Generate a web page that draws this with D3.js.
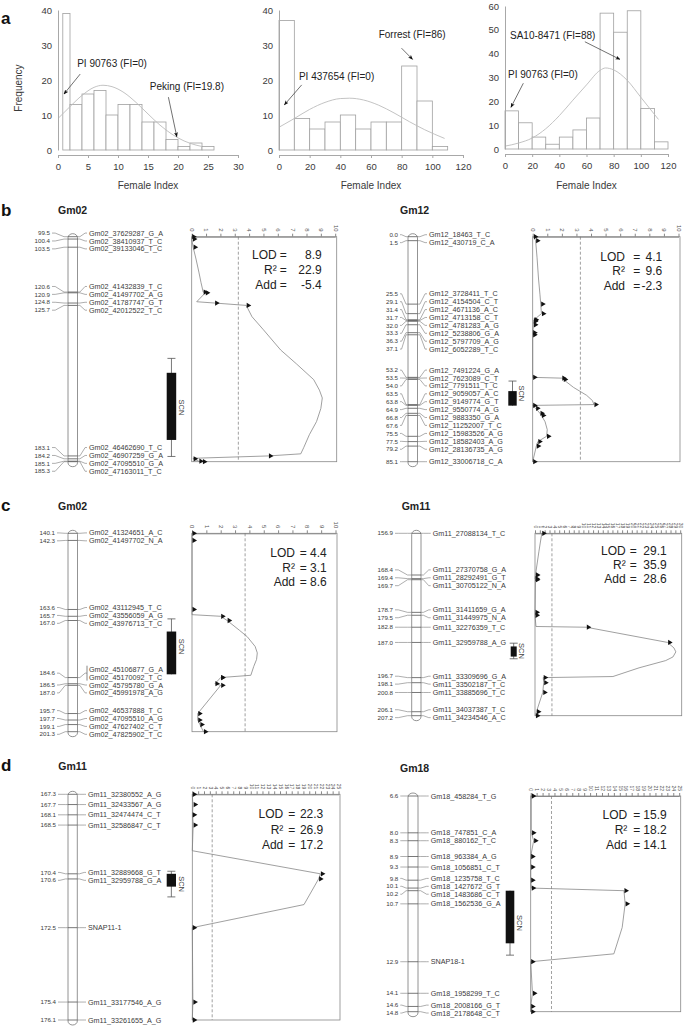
<!DOCTYPE html>
<html>
<head>
<meta charset="utf-8">
<script src="https://cdnjs.cloudflare.com/ajax/libs/d3/7.8.5/d3.min.js"></script>
<style>
  body { margin: 0; background: #fff; }
  svg { font-family: "Liberation Sans", Arial, Helvetica, sans-serif; }
</style>
</head>
<body>
<svg id="fig" width="685" height="1027"></svg>
<script>
// ---------- panel a : female index histograms ----------
var histTicksX1 = [0, 5, 10, 15, 20, 25, 30];
var histTicksX2 = [0, 20, 40, 60, 80, 100, 120];
var histTicksY40 = [0, 10, 20, 30, 40];
var histTicksY60 = [0, 10, 20, 30, 40, 50, 60];

var hist1Edges = [0.8, 2, 4, 6, 8, 10, 12, 14, 16, 18, 20, 22, 24, 26];
var hist1Counts = [39, 13, 16, 17, 10, 13, 13, 8, 8, 3, 1, 2, 1];
var hist1Fit = [[0, 9], [2, 12.4], [4, 15.6], [6, 17.9], [7.5, 18.5], [9, 18.1], [11, 16.4], [13, 13.6], [15, 10.3], [17, 7.1], [19, 4.5], [21, 2.6], [23, 1.4], [24, 1]];

var hist2Edges = [0, 10, 20, 30, 40, 50, 60, 70, 80, 90, 100, 110];
var hist2Counts = [37, 9, 6, 8, 10, 6, 8, 8, 24, 14, 1];
var hist2Fit = [[0, 6.5], [10, 9], [20, 11.6], [30, 13.6], [40, 14.7], [46, 14.8], [55, 14.3], [65, 12.8], [75, 10.6], [85, 8.1], [95, 5.8], [108, 3.3]];

var hist3Edges = [0, 10, 20, 30, 40, 50, 60, 70, 80, 90, 100, 110, 120];
var hist3Counts = [16, 11, 5, 2, 5, 8, 13, 57, 49, 58, 17, 3];
var hist3Fit = [[0, 1.2], [10, 2.5], [20, 4.6], [30, 8.5], [40, 14], [50, 20.5], [60, 26.9], [70, 33], [74, 34], [80, 33.2], [90, 28.8], [100, 21.7], [113, 12.4]];

// [text, text x, text y, arrow tail x, y, arrow tip x, y] in data units
var hist1Notes = [["PI 90763 (FI=0)", 3.2, 23.7, 3.7, 21.7, 1.0, 16], ["Peking (FI=19.8)", 15.3, 17.1, 18.4, 15.1, 19.8, 3.8]];
var hist2Notes = [["Forrest (FI=86)", 65, 32, 79.9, 29.1, 87.1, 25.9], ["PI 437654 (FI=0)", 13, 20, 14.8, 18.6, 3.5, 12.9]];
var hist3Notes = [["SA10-8471 (FI=88)", 3.7, 46.2, 58.8, 45, 84.6, 37.6], ["PI 90763 (FI=0)", 2.2, 29.8, 13.5, 27.6, 4.4, 17.5]];

// ---------- panels b-d : linkage maps + LOD profiles ----------
// b, Gm02
var bLeftPos = [99.5, 100.4, 103.5, 120.6, 120.9, 124.8, 125.7, 183.1, 184.2, 185.1, 185.3];
var bLeftNames = ["Gm02_37629287_G_A", "Gm02_38410937_T_C", "Gm02_39133046_T_C", "Gm02_41432839_T_C", "Gm02_41497702_A_G", "Gm02_41787747_G_T", "Gm02_42012522_T_C", "Gm02_46462690_T_C", "Gm02_46907259_G_A", "Gm02_47095510_G_A", "Gm02_47163011_T_C"];
var bLeftMarkLod = [0, 0.05, 0.1, 0.8, 0.95, 1.6, 3.8, 5.35, 0.1, 0.5, 0.75];
var bLeftCurve = [[99.5, 0], [100.4, 0], [103.5, 0.1], [108, 0.3], [113, 0.5], [117, 0.65], [120.6, 0.8], [120.9, 0.95], [124.3, 0.35], [124.8, 1.6], [125.7, 3.8], [130, 4.2], [135, 5.0], [142.7, 6.2], [148, 7.3], [154, 8.5], [158, 8.9], [161, 9.1], [165, 9.0], [170, 8.7], [175, 8.2], [180, 7.8], [182.3, 7.6], [183.1, 5.35], [184.0, 0.1], [184.2, 0.1], [185.1, 0.5], [185.3, 0.75]];
var bLeftQtl = [145.9, 151.4, 177.0, 183.3];
var bLeftStats = ["8.9", "22.9", "-5.4"];

// b, Gm12
var bRightPos = [0.0, 1.5, 25.5, 29.1, 31.4, 31.7, 32.0, 33.3, 36.3, 37.1, 53.2, 53.5, 54.0, 63.5, 63.8, 64.9, 66.8, 67.6, 75.5, 77.5, 79.2, 85.1];
var bRightNames = ["Gm12_18463_T_C", "Gm12_430719_C_A", "Gm12_3728411_T_C", "Gm12_4154504_C_T", "Gm12_4671136_A_C", "Gm12_4713158_C_T", "Gm12_4781283_A_G", "Gm12_5238806_G_A", "Gm12_5797709_A_G", "Gm12_6052289_T_C", "Gm12_7491224_G_A", "Gm12_7623089_C_T", "Gm12_7791511_T_C", "Gm12_9059057_A_C", "Gm12_9149774_G_T", "Gm12_9550774_A_G", "Gm12_9883350_G_A", "Gm12_11252007_T_C", "Gm12_15983526_A_G", "Gm12_18582403_A_G", "Gm12_28136735_A_G", "Gm12_33006718_C_A"];
var bRightMarkLod = [0.05, 0.2, 0.55, 0.6, 0.1, 0.05, 0.05, 0.05, 0, 0, 0, 2.0, 2.1, 4.2, 0, 0.2, 0.5, 0.6, 0.95, 0.35, 0.25, 0];
var bRightCurve = [[0, 0.05], [1.5, 0.2], [8, 0.3], [16, 0.4], [22, 0.5], [25.5, 0.55], [29.1, 0.6], [31.4, 0.1], [31.7, 0.05], [32, 0.05], [33.3, 0.05], [36.3, 0], [37.1, 0], [53.2, 0], [53.5, 2.0], [54, 2.1], [57, 2.8], [60, 3.7], [62, 4.1], [63.5, 4.2], [63.8, 0], [64.9, 0.2], [66.8, 0.5], [67.6, 0.6], [70, 0.85], [73, 1.0], [75.5, 0.95], [77.5, 0.35], [79.2, 0.25], [85.1, 0]];
var bRightQtl = [54.6, 58.4, 63.9, 63.9];
var bRightStats = ["4.1", "9.6", "-2.3"];

// c, Gm02
var cLeftPos = [140.1, 142.3, 163.6, 165.7, 167.0, 184.6, 184.6, 186.5, 187.0, 195.7, 197.7, 199.1, 201.3];
var cLeftNames = ["Gm02_41324651_A_C", "Gm02_41497702_N_A", "Gm02_43112945_T_C", "Gm02_43556059_A_G", "Gm02_43976713_T_C", "Gm02_45106877_G_A", "Gm02_45170092_T_C", "Gm02_45795780_G_A", "Gm02_45991978_A_G", "Gm02_46537888_T_C", "Gm02_47095510_A_G", "Gm02_47627402_C_T", "Gm02_47825902_T_C"];
var cLeftMarkLod = [0, 0, 0, 2.0, 2.45, 2.0, 2.0, 1.6, 2.0, 0.4, 0.4, 0.55, 0.8];
var cLeftCurve = [[140.1, 0], [142.3, 0], [163.6, 0], [165.2, 0], [165.7, 2.0], [167.0, 2.45], [170, 3.3], [172, 3.85], [175, 4.4], [177, 4.55], [179, 4.5], [181.2, 4.3], [183.9, 4.1], [184.6, 2.0], [186.5, 1.6], [187.0, 2.0], [195.7, 0.4], [197.7, 0.4], [199.1, 0.55], [201.3, 0.8]];
var cLeftQtl = [166.5, 170.4, 183.6, 183.6];
var cLeftStats = ["4.4", "3.1", "8.6"];

// c, Gm11
var cRightPos = [156.9, 168.4, 169.4, 169.7, 178.7, 179.5, 182.8, 187.0, 196.7, 198.1, 200.8, 206.1, 207.2];
var cRightNames = ["Gm11_27088134_T_C", "Gm11_27370758_G_A", "Gm11_28292491_G_T", "Gm11_30705122_N_A", "Gm11_31411659_G_A", "Gm11_31449975_N_A", "Gm11_32276359_T_C", "Gm11_32959788_A_G", "Gm11_33309696_G_A", "Gm11_33502187_T_C", "Gm11_33885696_T_C", "Gm11_34037387_T_C", "Gm11_34234546_A_C"];
var cRightMarkLod = [1.4, 0.1, 0, 0.1, 0, 0, 10.6, 27.4, 1.7, 1.8, 1.6, 0.3, 0.1];
var cRightCurve = [[156.9, 1.4], [162, 0.8], [168.4, 0.1], [169.4, 0], [169.7, 0.1], [178.7, 0], [179.5, 0], [182.6, 0.2], [182.8, 10.6], [187.0, 27.4], [188.5, 28.7], [189.6, 29.1], [191, 28.5], [192, 27], [194, 21.5], [196.4, 16.1], [196.7, 1.7], [198.1, 1.8], [200.8, 1.6], [206.1, 0.3], [207.2, 0.1]];
var cRightQtl = [187.2, 188.1, 190.9, 191.5];
var cRightStats = ["29.1", "35.9", "28.6"];

// d, Gm11
var dLeftPos = [167.3, 167.7, 168.1, 168.5, 170.4, 170.6, 172.5, 175.4, 176.1];
var dLeftNames = ["Gm11_32380552_A_G", "Gm11_32433567_A_G", "Gm11_32474474_C_T", "Gm11_32586847_C_T", "Gm11_32889668_G_T", "Gm11_32959788_G_A", "SNAP11-1", "Gm11_33177546_A_G", "Gm11_33261655_A_G"];
var dLeftMarkLod = [0, 0.15, 0, 0.15, 21.9, 21.6, 0, 0.1, 0];
var dLeftCurve = [[167.3, 0], [167.7, 0.1], [168.1, 0.05], [168.5, 0.15], [169.5, 0], [170.4, 21.9], [170.6, 21.6], [171.6, 19.1], [172.5, 0], [175.4, 0.1], [176.1, 0]];
var dLeftQtl = [170.3, 170.4, 170.9, 171.3];
var dLeftStats = ["22.3", "26.9", "17.2"];

// d, Gm18
var dRightPos = [6.6, 8.0, 8.3, 8.9, 9.3, 9.8, 10.1, 10.2, 10.7, 12.9, 14.1, 14.6, 14.8];
var dRightNames = ["Gm18_458284_T_G", "Gm18_747851_C_A", "Gm18_880162_T_C", "Gm18_963384_A_G", "Gm18_1056851_C_T", "Gm18_1235758_T_C", "Gm18_1427672_G_T", "Gm18_1483686_C_T", "Gm18_1562536_G_A", "SNAP18-1", "Gm18_1958299_T_C", "Gm18_2008166_G_T", "Gm18_2178648_C_T"];
var dRightMarkLod = [0.1, 0.15, 0.5, 0, 0, 0, 0.1, 15.7, 15.9, 0, 0.3, 0, 0];
var dRightCurve = [[6.6, 0.1], [8.0, 0.1], [8.3, 0.5], [8.9, 0], [9.3, 0], [9.8, 0], [10.1, 0.1], [10.2, 15.7], [10.7, 15.9], [11.6, 15.4], [12.6, 14.0], [12.9, 0], [14.1, 0.3], [14.6, 0], [14.8, 0]];
var dRightQtl = [10.2, 10.2, 12.2, 12.65];
var dRightStats = ["15.9", "18.2", "14.1"];

var statLabels = ["LOD", "R\u00b2", "Add"];

var svg = d3.select('#fig');
var TXT = '#3a3a3a';

// panel letters
[['a', 24], ['b', 216], ['c', 511], ['d', 771]].forEach(function (p) {
  svg.append('text').attr('x', 1).attr('y', p[1]).text(p[0])
    .attr('font-size', 17).attr('font-weight', 'bold').attr('fill', '#111');
});

svg.append('defs').append('marker')
  .attr('id', 'arr').attr('viewBox', '0 0 10 10').attr('refX', 9).attr('refY', 5)
  .attr('markerWidth', 7).attr('markerHeight', 7).attr('orient', 'auto')
  .append('path').attr('d', 'M0,1L10,5L0,9L2.5,5Z').attr('fill', '#111');

function drawHist(cfg, edges, counts, fit, notes) {
  var g = svg.append('g');
  var x = d3.scaleLinear().domain(cfg.xDomain).range(cfg.xRange);
  var y = d3.scaleLinear().domain(cfg.yDomain).range(cfg.yRange);

  g.selectAll('rect').data(counts).enter().append('rect')
    .attr('x', function (d, i) { return x(edges[i]); })
    .attr('y', function (d) { return y(d); })
    .attr('width', function (d, i) { return x(edges[i + 1]) - x(edges[i]); })
    .attr('height', function (d) { return y(0) - y(d); })
    .attr('fill', '#fff').attr('stroke', '#a0a0a0').attr('stroke-width', 0.8);

  g.append('path').datum(fit)
    .attr('d', d3.line().x(function (d) { return x(d[0]); }).y(function (d) { return y(d[1]); }).curve(d3.curveMonotoneX))
    .attr('fill', 'none').attr('stroke', '#bcbcbc').attr('stroke-width', 0.9);

  var ya = g.append('g').attr('transform', 'translate(' + cfg.xRange[0] + ',0)')
    .call(d3.axisLeft(y).tickValues(cfg.yTicks).tickSize(0).tickSizeOuter(0).tickPadding(6));
  var xa = g.append('g').attr('transform', 'translate(0,' + cfg.axisY + ')')
    .call(d3.axisBottom(x).tickValues(cfg.xTicks).tickSize(3).tickSizeOuter(0).tickPadding(5));
  [ya, xa].forEach(function (a) {
    a.select('.domain').attr('stroke', '#a8a8a8');
    a.selectAll('line').attr('stroke', '#a8a8a8');
    a.selectAll('text').attr('font-size', 9.5).attr('fill', TXT).attr('font-family', null);
  });

  g.append('text').attr('x', (cfg.xRange[0] + cfg.xRange[1]) / 2).attr('y', 189)
    .attr('text-anchor', 'middle').attr('font-size', 10).attr('fill', TXT).text('Female Index');

  notes.forEach(function (n) {
    g.append('text').attr('x', x(n[1])).attr('y', y(n[2])).text(n[0])
      .attr('font-size', 10).attr('fill', '#222');
    g.append('line').attr('x1', x(n[3])).attr('y1', y(n[4])).attr('x2', x(n[5])).attr('y2', y(n[6]))
      .attr('stroke', '#333').attr('stroke-width', 0.7).attr('marker-end', 'url(#arr)');
  });
}

drawHist({ xDomain: [0, 30], xRange: [58, 238], yDomain: [0, 40], yRange: [150, 10], axisY: 155, xTicks: histTicksX1, yTicks: histTicksY40 },
  hist1Edges, hist1Counts, hist1Fit, hist1Notes);
drawHist({ xDomain: [0, 120], xRange: [279, 463], yDomain: [0, 40], yRange: [150, 10], axisY: 155, xTicks: histTicksX2, yTicks: histTicksY40 },
  hist2Edges, hist2Counts, hist2Fit, hist2Notes);
drawHist({ xDomain: [0, 120], xRange: [505, 668], yDomain: [0, 60], yRange: [149, 6], axisY: 154, xTicks: histTicksX2, yTicks: histTicksY60 },
  hist3Edges, hist3Counts, hist3Fit, hist3Notes);

svg.append('text').attr('transform', 'translate(22,88) rotate(-90)')
  .attr('text-anchor', 'middle').attr('font-size', 10).attr('fill', TXT).text('Frequency');

// push marker labels apart so they do not overlap (mapchart style)
function spread(ys, gap) {
  var cl = ys.map(function (y) { return { sum: y, n: 1, top: y }; });
  var moved = true;
  while (moved) {
    moved = false;
    for (var i = 0; i < cl.length - 1; i++) {
      var a = cl[i], b = cl[i + 1];
      if (a.top + a.n * gap > b.top + 0.01) {
        a.sum += b.sum; a.n += b.n;
        a.top = a.sum / a.n - (a.n - 1) * gap / 2;
        cl.splice(i + 1, 1);
        moved = true;
        break;
      }
    }
  }
  var out = [];
  cl.forEach(function (c) { for (var k = 0; k < c.n; k++) out.push(c.top + k * gap); });
  return out;
}

function drawMap(L, pos, names, curve, marks, qtl, stats) {
  var g = svg.append('g');
  var y = d3.scaleLinear().domain([pos[0], pos[pos.length - 1]]).range([L.y0, L.y1]);
  var lx = d3.scaleLinear().domain([0, L.lodMax]).range([L.boxL, L.boxR - 1.5]);
  var my = pos.map(y);
  var ly = spread(my, 7.9);
  var cx = L.chromX, cw = L.chromW;
  var poly = d3.line();

  g.append('text').attr('x', L.tx).attr('y', L.ty).text(L.title)
    .attr('font-size', 10.5).attr('font-weight', 'bold').attr('fill', '#222');

  g.append('rect').attr('x', cx).attr('y', L.y0 - 3).attr('width', cw).attr('height', L.y1 - L.y0 + 8)
    .attr('rx', cw / 2).attr('ry', 4).attr('fill', '#fff').attr('stroke', '#777').attr('stroke-width', 0.8);

  pos.forEach(function (p, i) {
    var dupPrev = i > 0 && pos[i - 1] === p;
    var dupNext = i < pos.length - 1 && pos[i + 1] === p;
    var yy = dupNext ? (ly[i] + ly[i + 1]) / 2 : ly[i];

    if (!dupPrev) {
      g.append('line').attr('x1', cx).attr('x2', cx + cw).attr('y1', my[i]).attr('y2', my[i])
        .attr('stroke', '#555').attr('stroke-width', 0.8);
      g.append('text').attr('x', L.labelEnd).attr('y', yy).attr('dy', '0.35em')
        .attr('text-anchor', 'end').attr('font-size', 6.2).attr('fill', TXT).text(p.toFixed(1));
      var l0 = L.labelEnd + 2, l3 = cx;
      g.append('path').attr('d', poly([[l0, yy], [l0 + (l3 - l0) * 0.2, yy], [l0 + (l3 - l0) * 0.75, my[i]], [l3, my[i]]]))
        .attr('fill', 'none').attr('stroke', '#777').attr('stroke-width', 0.6);
      var r0 = cx + cw, r3 = L.nameX - 2;
      g.append('path').attr('d', poly([[r0, my[i]], [r0 + (r3 - r0) * 0.25, my[i]], [r0 + (r3 - r0) * 0.8, yy], [r3, yy]]))
        .attr('fill', 'none').attr('stroke', '#777').attr('stroke-width', 0.6);
    }
    if (dupNext) {
      g.append('line').attr('x1', L.nameX - 2).attr('x2', L.nameX - 2)
        .attr('y1', ly[i] - 3.5).attr('y2', ly[i + 1] + 3.5).attr('stroke', '#555').attr('stroke-width', 0.7);
    }
    g.append('text').attr('x', L.nameX).attr('y', ly[i]).attr('dy', '0.35em')
      .attr('font-size', 7.2).attr('fill', TXT).text(names[i]);
  });

  // QTL interval (SCN)
  var qc = L.qtlX + L.qtlW / 2;
  g.append('line').attr('x1', qc).attr('x2', qc).attr('y1', y(qtl[0])).attr('y2', y(qtl[3]))
    .attr('stroke', '#555').attr('stroke-width', 0.8);
  [[qtl[0], qtl[1]], [qtl[3], qtl[2]]].forEach(function (q) {
    if (q[0] !== q[1]) {
      g.append('line').attr('x1', qc - 4).attr('x2', qc + 4).attr('y1', y(q[0])).attr('y2', y(q[0]))
        .attr('stroke', '#555').attr('stroke-width', 0.8);
    }
  });
  g.append('rect').attr('x', L.qtlX).attr('y', y(qtl[1])).attr('width', L.qtlW).attr('height', y(qtl[2]) - y(qtl[1]))
    .attr('fill', '#111');
  g.append('text').attr('transform', 'translate(' + (L.qtlX + L.qtlW + 2.5) + ',' + ((y(qtl[0]) + y(qtl[3])) / 2) + ') rotate(90)')
    .attr('text-anchor', 'middle').attr('font-size', 7.5).attr('fill', '#444').text('SCN');

  // LOD box and axis
  g.append('rect').attr('x', L.boxL).attr('y', L.y0).attr('width', L.boxR - L.boxL).attr('height', L.y1 - L.y0)
    .attr('fill', 'none').attr('stroke', '#888').attr('stroke-width', 0.8);
  var ax = g.append('g').attr('transform', 'translate(0,' + L.y0 + ')')
    .call(d3.axisTop(lx).tickValues(d3.range(0, L.lodMax + 1)).tickSize(3).tickSizeOuter(0));
  ax.select('.domain').attr('stroke', '#888');
  ax.selectAll('line').attr('stroke', '#888');
  ax.selectAll('text').attr('font-family', null).attr('font-size', L.lodMax > 10 ? 5 : 6).attr('fill', '#555')
    .attr('y', 0).attr('x', -5).attr('dy', '0.35em').attr('transform', 'rotate(90)').style('text-anchor', 'end');

  g.append('line').attr('x1', lx(L.thr)).attr('x2', lx(L.thr)).attr('y1', L.y0).attr('y2', L.y1)
    .attr('stroke', '#777').attr('stroke-width', 0.7).attr('stroke-dasharray', '3,2');

  g.append('path').datum(curve)
    .attr('d', d3.line().x(function (d) { return lx(d[1]); }).y(function (d) { return y(d[0]); }))
    .attr('fill', 'none').attr('stroke', '#808080').attr('stroke-width', 0.75);

  var tri = d3.symbol().type(d3.symbolTriangle).size(12);
  g.selectAll('path.tri').data(marks).enter().append('path').attr('class', 'tri')
    .attr('d', tri)
    .attr('transform', function (d, i) { return 'translate(' + (lx(d) + 2) + ',' + my[i] + ') rotate(90)'; })
    .attr('fill', '#111');

  // LOD / R2 / Add
  stats.forEach(function (v, i) {
    var yy = L.statY + i * L.statDy;
    g.append('text').attr('x', L.statX[0]).attr('y', yy).attr('text-anchor', 'end')
      .attr('font-size', 12).attr('fill', '#222').text(statLabels[i]);
    g.append('text').attr('x', L.statX[1]).attr('y', yy).attr('text-anchor', 'middle')
      .attr('font-size', 12).attr('fill', '#222').text('=');
    g.append('text').attr('x', L.statX[2]).attr('y', yy).attr('text-anchor', 'end')
      .attr('font-size', 12).attr('fill', '#222').text(v);
  });
}

drawMap({ title: 'Gm02', tx: 58, ty: 214, y0: 236.7, y1: 461.7, labelEnd: 50, chromX: 68, chromW: 9.5, nameX: 89,
  boxL: 191.7, boxR: 336.7, lodMax: 10, thr: 3.25, qtlX: 166.7, qtlW: 9.5, statX: [276.7, 283.3, 321.7], statY: 259, statDy: 15 },
  bLeftPos, bLeftNames, bLeftCurve, bLeftMarkLod, bLeftQtl, bLeftStats);
drawMap({ title: 'Gm12', tx: 400, ty: 214, y0: 236.7, y1: 461.7, labelEnd: 398, chromX: 408, chromW: 9.5, nameX: 429,
  boxL: 532.7, boxR: 680, lodMax: 10, thr: 3.27, qtlX: 508.3, qtlW: 8.4, statX: [625, 636.7, 662.3], statY: 260.7, statDy: 14.5 },
  bRightPos, bRightNames, bRightCurve, bRightMarkLod, bRightQtl, bRightStats);
drawMap({ title: 'Gm02', tx: 58, ty: 510, y0: 533.3, y1: 731.7, labelEnd: 55, chromX: 68, chromW: 9.5, nameX: 89,
  boxL: 192, boxR: 337, lodMax: 10, thr: 3.7, qtlX: 166.7, qtlW: 9.5, statX: [295, 303.3, 326.7], statY: 557.3, statDy: 14.2 },
  cLeftPos, cLeftNames, cLeftCurve, cLeftMarkLod, cLeftQtl, cLeftStats);
drawMap({ title: 'Gm11', tx: 401.7, ty: 510, y0: 533.3, y1: 715.7, labelEnd: 393, chromX: 411.7, chromW: 9.3, nameX: 432.7,
  boxL: 535, boxR: 681.7, lodMax: 30, thr: 3.5, qtlX: 510.7, qtlW: 6, statX: [625.7, 633.3, 666.7], statY: 554.7, statDy: 14.3 },
  cRightPos, cRightNames, cRightCurve, cRightMarkLod, cRightQtl, cRightStats);
drawMap({ title: 'Gm11', tx: 58.3, ty: 770, y0: 794.3, y1: 1020, labelEnd: 56, chromX: 68, chromW: 9.3, nameX: 88,
  boxL: 192.3, boxR: 340, lodMax: 25, thr: 3.4, qtlX: 166.7, qtlW: 9.3, statX: [283.3, 291.7, 323.3], statY: 818, statDy: 15.5 },
  dLeftPos, dLeftNames, dLeftCurve, dLeftMarkLod, dLeftQtl, dLeftStats);
drawMap({ title: 'Gm18', tx: 400, ty: 771.7, y0: 796, y1: 1011.7, labelEnd: 398.3, chromX: 408, chromW: 10, nameX: 430.7,
  boxL: 530.7, boxR: 680.7, lodMax: 25, thr: 3.5, qtlX: 505.7, qtlW: 8.6, statX: [627.3, 636.7, 666.7], statY: 819, statDy: 15 },
  dRightPos, dRightNames, dRightCurve, dRightMarkLod, dRightQtl, dRightStats);
</script>
</body>
</html>
